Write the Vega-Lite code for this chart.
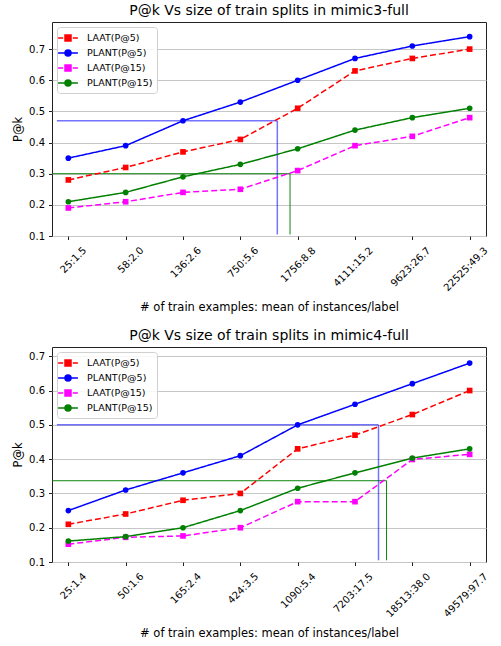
{
  "$schema": "https://vega.github.io/schema/vega-lite/v6.json",
  "padding": {"top": 3, "left": 12, "right": 5, "bottom": 3},
  "background": "white",
  "config": {
    "font": "DejaVu Sans",
    "view": {"stroke": "#222222", "strokeWidth": 1},
    "title": {"font": "DejaVu Sans", "fontSize": 14, "fontWeight": "normal", "color": "#000000", "offset": 4},
    "axis": {
      "domain": false,
      "tickColor": "#222222",
      "tickSize": 3.5,
      "gridColor": "#c6c6c6",
      "gridWidth": 1,
      "labelFont": "DejaVu Sans",
      "labelFontSize": 10,
      "labelColor": "#000000",
      "titleFont": "DejaVu Sans",
      "titleFontSize": 11.5,
      "titleFontWeight": "normal",
      "titleColor": "#000000"
    },
    "legend": {
      "orient": "top-left",
      "offset": 5,
      "padding": 4,
      "strokeColor": "#d0d0d0",
      "fillColor": "rgba(255,255,255,0.85)",
      "cornerRadius": 3,
      "labelFont": "DejaVu Sans",
      "labelFontSize": 9.5,
      "labelColor": "#000000",
      "labelOffset": 12,
      "symbolSize": 144,
      "symbolStrokeWidth": 1.5,
      "rowPadding": 2
    }
  },
  "datasets": {
    "m3": [
      {"split": "25:1.5", "series": "LAAT(P@5)", "pk": 0.28},
      {"split": "58:2.0", "series": "LAAT(P@5)", "pk": 0.32},
      {"split": "136:2.6", "series": "LAAT(P@5)", "pk": 0.37},
      {"split": "750:5.6", "series": "LAAT(P@5)", "pk": 0.41},
      {"split": "1756:8.8", "series": "LAAT(P@5)", "pk": 0.51},
      {"split": "4111:15.2", "series": "LAAT(P@5)", "pk": 0.63},
      {"split": "9623:26.7", "series": "LAAT(P@5)", "pk": 0.67},
      {"split": "22525:49.3", "series": "LAAT(P@5)", "pk": 0.70},
      {"split": "25:1.5", "series": "PLANT(P@5)", "pk": 0.35},
      {"split": "58:2.0", "series": "PLANT(P@5)", "pk": 0.39},
      {"split": "136:2.6", "series": "PLANT(P@5)", "pk": 0.47},
      {"split": "750:5.6", "series": "PLANT(P@5)", "pk": 0.53},
      {"split": "1756:8.8", "series": "PLANT(P@5)", "pk": 0.60},
      {"split": "4111:15.2", "series": "PLANT(P@5)", "pk": 0.67},
      {"split": "9623:26.7", "series": "PLANT(P@5)", "pk": 0.71},
      {"split": "22525:49.3", "series": "PLANT(P@5)", "pk": 0.74},
      {"split": "25:1.5", "series": "LAAT(P@15)", "pk": 0.19},
      {"split": "58:2.0", "series": "LAAT(P@15)", "pk": 0.21},
      {"split": "136:2.6", "series": "LAAT(P@15)", "pk": 0.24},
      {"split": "750:5.6", "series": "LAAT(P@15)", "pk": 0.25},
      {"split": "1756:8.8", "series": "LAAT(P@15)", "pk": 0.31},
      {"split": "4111:15.2", "series": "LAAT(P@15)", "pk": 0.39},
      {"split": "9623:26.7", "series": "LAAT(P@15)", "pk": 0.42},
      {"split": "22525:49.3", "series": "LAAT(P@15)", "pk": 0.48},
      {"split": "25:1.5", "series": "PLANT(P@15)", "pk": 0.21},
      {"split": "58:2.0", "series": "PLANT(P@15)", "pk": 0.24},
      {"split": "136:2.6", "series": "PLANT(P@15)", "pk": 0.29},
      {"split": "750:5.6", "series": "PLANT(P@15)", "pk": 0.33},
      {"split": "1756:8.8", "series": "PLANT(P@15)", "pk": 0.38},
      {"split": "4111:15.2", "series": "PLANT(P@15)", "pk": 0.44},
      {"split": "9623:26.7", "series": "PLANT(P@15)", "pk": 0.48},
      {"split": "22525:49.3", "series": "PLANT(P@15)", "pk": 0.51}
    ],
    "m4": [
      {"split": "25:1.4", "series": "LAAT(P@5)", "pk": 0.21},
      {"split": "50:1.6", "series": "LAAT(P@5)", "pk": 0.24},
      {"split": "165:2.4", "series": "LAAT(P@5)", "pk": 0.28},
      {"split": "424:3.5", "series": "LAAT(P@5)", "pk": 0.30},
      {"split": "1090:5.4", "series": "LAAT(P@5)", "pk": 0.43},
      {"split": "7203:17.5", "series": "LAAT(P@5)", "pk": 0.47},
      {"split": "18513:38.0", "series": "LAAT(P@5)", "pk": 0.53},
      {"split": "49579:97.7", "series": "LAAT(P@5)", "pk": 0.60},
      {"split": "25:1.4", "series": "PLANT(P@5)", "pk": 0.25},
      {"split": "50:1.6", "series": "PLANT(P@5)", "pk": 0.31},
      {"split": "165:2.4", "series": "PLANT(P@5)", "pk": 0.36},
      {"split": "424:3.5", "series": "PLANT(P@5)", "pk": 0.41},
      {"split": "1090:5.4", "series": "PLANT(P@5)", "pk": 0.50},
      {"split": "7203:17.5", "series": "PLANT(P@5)", "pk": 0.56},
      {"split": "18513:38.0", "series": "PLANT(P@5)", "pk": 0.62},
      {"split": "49579:97.7", "series": "PLANT(P@5)", "pk": 0.68},
      {"split": "25:1.4", "series": "LAAT(P@15)", "pk": 0.152},
      {"split": "50:1.6", "series": "LAAT(P@15)", "pk": 0.172},
      {"split": "165:2.4", "series": "LAAT(P@15)", "pk": 0.176},
      {"split": "424:3.5", "series": "LAAT(P@15)", "pk": 0.20},
      {"split": "1090:5.4", "series": "LAAT(P@15)", "pk": 0.276},
      {"split": "7203:17.5", "series": "LAAT(P@15)", "pk": 0.276},
      {"split": "18513:38.0", "series": "LAAT(P@15)", "pk": 0.399},
      {"split": "49579:97.7", "series": "LAAT(P@15)", "pk": 0.414},
      {"split": "25:1.4", "series": "PLANT(P@15)", "pk": 0.161},
      {"split": "50:1.6", "series": "PLANT(P@15)", "pk": 0.174},
      {"split": "165:2.4", "series": "PLANT(P@15)", "pk": 0.20},
      {"split": "424:3.5", "series": "PLANT(P@15)", "pk": 0.25},
      {"split": "1090:5.4", "series": "PLANT(P@15)", "pk": 0.315},
      {"split": "7203:17.5", "series": "PLANT(P@15)", "pk": 0.36},
      {"split": "18513:38.0", "series": "PLANT(P@15)", "pk": 0.403},
      {"split": "49579:97.7", "series": "PLANT(P@15)", "pk": 0.43}
    ],
    "ref3": [
      {"series": "PLANT(P@5)", "xs": -0.2, "xe": 3.645, "yv": 0.47, "yb": 0.105},
      {"series": "PLANT(P@15)", "xs": -0.285, "xe": 3.867, "yv": 0.30, "yb": 0.105}
    ],
    "ref4": [
      {"series": "PLANT(P@5)", "xs": -0.2, "xe": 5.41, "yv": 0.50, "yb": 0.105},
      {"series": "PLANT(P@15)", "xs": -0.285, "xe": 5.55, "yv": 0.337, "yb": 0.105}
    ]
  },
  "resolve": {"legend": {"color": "independent"}},
  "spacing": 14,
  "vconcat": [
    {
      "title": "P@k Vs size of train splits in  mimic3-full",
      "width": 434,
      "height": 214,
      "resolve": {"scale": {"x": "independent"}},
      "layer": [
        {
          "data": {"name": "ref3"},
          "mark": {"type": "rule"},
          "encoding": {
            "x": {"field": "xs", "type": "quantitative", "scale": {"domain": [-0.285, 7.285], "nice": false, "zero": false}, "axis": null},
            "x2": {"field": "xe"},
            "y": {"field": "yv", "type": "quantitative", "title": "P@k", "scale": {"domain": [0.1, 0.787], "nice": false, "zero": false}, "axis": {"values": [0.1, 0.2, 0.3, 0.4, 0.5, 0.6, 0.7], "format": ".1f", "labelPadding": 4, "titlePadding": 5}},
            "color": {"field": "series", "type": "nominal", "scale": {"domain": ["LAAT(P@5)", "PLANT(P@5)", "LAAT(P@15)", "PLANT(P@15)"], "range": ["#ff0000", "#0000ff", "#ff00ff", "#008000"]}, "legend": {"title": null, "encode": {"symbols": {"update": {"shape": {"signal": "indexof(datum.value, 'LAAT') === 0 ? 'M-1.65,0H-0.8M-0.5,-0.5H0.5V0.5H-0.5ZM0.8,0H1.65' : 'M-1.65,0H1.65M-0.5,0A0.5,0.5 0 1,0 0.5,0A0.5,0.5 0 1,0 -0.5,0Z'"}, "fill": {"scale": "color", "field": "value"}, "stroke": {"scale": "color", "field": "value"}, "strokeWidth": {"value": 1.5}, "strokeDash": {"value": []}, "opacity": {"value": 1}}}}}},
            "opacity": {"field": "series", "type": "nominal", "scale": {"domain": ["PLANT(P@5)", "PLANT(P@15)"], "range": [0.55, 0.95]}, "legend": null},
            "strokeWidth": {"field": "series", "type": "nominal", "scale": {"domain": ["PLANT(P@5)", "PLANT(P@15)"], "range": [1.5, 1]}, "legend": null}
          }
        },
        {
          "data": {"name": "ref3"},
          "mark": {"type": "rule"},
          "encoding": {
            "x": {"field": "xe", "type": "quantitative", "scale": {"domain": [-0.285, 7.285], "nice": false, "zero": false}, "axis": null},
            "y": {"field": "yb", "type": "quantitative", "title": "P@k", "scale": {"domain": [0.1, 0.787], "nice": false, "zero": false}, "axis": {"values": [0.1, 0.2, 0.3, 0.4, 0.5, 0.6, 0.7], "format": ".1f", "labelPadding": 4, "titlePadding": 5}},
            "y2": {"field": "yv"},
            "color": {"field": "series", "type": "nominal", "scale": {"domain": ["LAAT(P@5)", "PLANT(P@5)", "LAAT(P@15)", "PLANT(P@15)"], "range": ["#ff0000", "#0000ff", "#ff00ff", "#008000"]}, "legend": {"title": null, "encode": {"symbols": {"update": {"shape": {"signal": "indexof(datum.value, 'LAAT') === 0 ? 'M-1.65,0H-0.8M-0.5,-0.5H0.5V0.5H-0.5ZM0.8,0H1.65' : 'M-1.65,0H1.65M-0.5,0A0.5,0.5 0 1,0 0.5,0A0.5,0.5 0 1,0 -0.5,0Z'"}, "fill": {"scale": "color", "field": "value"}, "stroke": {"scale": "color", "field": "value"}, "strokeWidth": {"value": 1.5}, "strokeDash": {"value": []}, "opacity": {"value": 1}}}}}},
            "opacity": {"field": "series", "type": "nominal", "scale": {"domain": ["PLANT(P@5)", "PLANT(P@15)"], "range": [0.55, 0.95]}, "legend": null},
            "strokeWidth": {"field": "series", "type": "nominal", "scale": {"domain": ["PLANT(P@5)", "PLANT(P@15)"], "range": [1.5, 1]}, "legend": null}
          }
        },
        {
          "data": {"name": "m3"},
          "mark": {"type": "line", "strokeWidth": 1.5},
          "encoding": {
            "x": {"field": "split", "type": "ordinal", "sort": null, "title": "# of train examples: mean of instances/label", "scale": {"type": "point", "padding": 0.285}, "axis": {"labelAngle": -45, "labelAlign": "right", "labelBaseline": "middle", "labelOverlap": false, "labelPadding": 9, "labelOffset": 16, "titlePadding": 9}},
            "y": {"field": "pk", "type": "quantitative", "title": "P@k", "scale": {"domain": [0.1, 0.787], "nice": false, "zero": false}, "axis": {"values": [0.1, 0.2, 0.3, 0.4, 0.5, 0.6, 0.7], "format": ".1f", "labelPadding": 4, "titlePadding": 5}},
            "color": {"field": "series", "type": "nominal", "scale": {"domain": ["LAAT(P@5)", "PLANT(P@5)", "LAAT(P@15)", "PLANT(P@15)"], "range": ["#ff0000", "#0000ff", "#ff00ff", "#008000"]}, "legend": {"title": null, "encode": {"symbols": {"update": {"shape": {"signal": "indexof(datum.value, 'LAAT') === 0 ? 'M-1.65,0H-0.8M-0.5,-0.5H0.5V0.5H-0.5ZM0.8,0H1.65' : 'M-1.65,0H1.65M-0.5,0A0.5,0.5 0 1,0 0.5,0A0.5,0.5 0 1,0 -0.5,0Z'"}, "fill": {"scale": "color", "field": "value"}, "stroke": {"scale": "color", "field": "value"}, "strokeWidth": {"value": 1.5}, "strokeDash": {"value": []}, "opacity": {"value": 1}}}}}},
            "strokeDash": {"field": "series", "type": "nominal", "scale": {"domain": ["LAAT(P@5)", "PLANT(P@5)", "LAAT(P@15)", "PLANT(P@15)"], "range": [[6, 3], [1, 0], [6, 3], [1, 0]]}, "legend": null}
          }
        },
        {
          "data": {"name": "m3"},
          "mark": {"type": "point", "filled": true, "size": 32, "opacity": 1},
          "encoding": {
            "x": {"field": "split", "type": "ordinal", "sort": null, "scale": {"type": "point", "padding": 0.285}, "axis": null},
            "y": {"field": "pk", "type": "quantitative", "title": "P@k", "scale": {"domain": [0.1, 0.787], "nice": false, "zero": false}, "axis": {"values": [0.1, 0.2, 0.3, 0.4, 0.5, 0.6, 0.7], "format": ".1f", "labelPadding": 4, "titlePadding": 5}},
            "color": {"field": "series", "type": "nominal", "scale": {"domain": ["LAAT(P@5)", "PLANT(P@5)", "LAAT(P@15)", "PLANT(P@15)"], "range": ["#ff0000", "#0000ff", "#ff00ff", "#008000"]}, "legend": {"title": null, "encode": {"symbols": {"update": {"shape": {"signal": "indexof(datum.value, 'LAAT') === 0 ? 'M-1.65,0H-0.8M-0.5,-0.5H0.5V0.5H-0.5ZM0.8,0H1.65' : 'M-1.65,0H1.65M-0.5,0A0.5,0.5 0 1,0 0.5,0A0.5,0.5 0 1,0 -0.5,0Z'"}, "fill": {"scale": "color", "field": "value"}, "stroke": {"scale": "color", "field": "value"}, "strokeWidth": {"value": 1.5}, "strokeDash": {"value": []}, "opacity": {"value": 1}}}}}},
            "shape": {"field": "series", "type": "nominal", "scale": {"domain": ["LAAT(P@5)", "PLANT(P@5)", "LAAT(P@15)", "PLANT(P@15)"], "range": ["square", "circle", "square", "circle"]}, "legend": null}
          }
        }
      ]
    },
    {
      "title": "P@k Vs size of train splits in mimic4-full",
      "width": 434,
      "height": 215,
      "resolve": {"scale": {"x": "independent"}},
      "layer": [
        {
          "data": {"name": "ref4"},
          "mark": {"type": "rule"},
          "encoding": {
            "x": {"field": "xs", "type": "quantitative", "scale": {"domain": [-0.285, 7.285], "nice": false, "zero": false}, "axis": null},
            "x2": {"field": "xe"},
            "y": {"field": "yv", "type": "quantitative", "title": "P@k", "scale": {"domain": [0.1, 0.727], "nice": false, "zero": false}, "axis": {"values": [0.1, 0.2, 0.3, 0.4, 0.5, 0.6, 0.7], "format": ".1f", "labelPadding": 4, "titlePadding": 5}},
            "color": {"field": "series", "type": "nominal", "scale": {"domain": ["LAAT(P@5)", "PLANT(P@5)", "LAAT(P@15)", "PLANT(P@15)"], "range": ["#ff0000", "#0000ff", "#ff00ff", "#008000"]}, "legend": {"title": null, "encode": {"symbols": {"update": {"shape": {"signal": "indexof(datum.value, 'LAAT') === 0 ? 'M-1.65,0H-0.8M-0.5,-0.5H0.5V0.5H-0.5ZM0.8,0H1.65' : 'M-1.65,0H1.65M-0.5,0A0.5,0.5 0 1,0 0.5,0A0.5,0.5 0 1,0 -0.5,0Z'"}, "fill": {"scale": "color", "field": "value"}, "stroke": {"scale": "color", "field": "value"}, "strokeWidth": {"value": 1.5}, "strokeDash": {"value": []}, "opacity": {"value": 1}}}}}},
            "opacity": {"field": "series", "type": "nominal", "scale": {"domain": ["PLANT(P@5)", "PLANT(P@15)"], "range": [0.55, 0.95]}, "legend": null},
            "strokeWidth": {"field": "series", "type": "nominal", "scale": {"domain": ["PLANT(P@5)", "PLANT(P@15)"], "range": [1.5, 1]}, "legend": null}
          }
        },
        {
          "data": {"name": "ref4"},
          "mark": {"type": "rule"},
          "encoding": {
            "x": {"field": "xe", "type": "quantitative", "scale": {"domain": [-0.285, 7.285], "nice": false, "zero": false}, "axis": null},
            "y": {"field": "yb", "type": "quantitative", "title": "P@k", "scale": {"domain": [0.1, 0.727], "nice": false, "zero": false}, "axis": {"values": [0.1, 0.2, 0.3, 0.4, 0.5, 0.6, 0.7], "format": ".1f", "labelPadding": 4, "titlePadding": 5}},
            "y2": {"field": "yv"},
            "color": {"field": "series", "type": "nominal", "scale": {"domain": ["LAAT(P@5)", "PLANT(P@5)", "LAAT(P@15)", "PLANT(P@15)"], "range": ["#ff0000", "#0000ff", "#ff00ff", "#008000"]}, "legend": {"title": null, "encode": {"symbols": {"update": {"shape": {"signal": "indexof(datum.value, 'LAAT') === 0 ? 'M-1.65,0H-0.8M-0.5,-0.5H0.5V0.5H-0.5ZM0.8,0H1.65' : 'M-1.65,0H1.65M-0.5,0A0.5,0.5 0 1,0 0.5,0A0.5,0.5 0 1,0 -0.5,0Z'"}, "fill": {"scale": "color", "field": "value"}, "stroke": {"scale": "color", "field": "value"}, "strokeWidth": {"value": 1.5}, "strokeDash": {"value": []}, "opacity": {"value": 1}}}}}},
            "opacity": {"field": "series", "type": "nominal", "scale": {"domain": ["PLANT(P@5)", "PLANT(P@15)"], "range": [0.55, 0.95]}, "legend": null},
            "strokeWidth": {"field": "series", "type": "nominal", "scale": {"domain": ["PLANT(P@5)", "PLANT(P@15)"], "range": [1.5, 1]}, "legend": null}
          }
        },
        {
          "data": {"name": "m4"},
          "mark": {"type": "line", "strokeWidth": 1.5},
          "encoding": {
            "x": {"field": "split", "type": "ordinal", "sort": null, "title": "# of train examples: mean of instances/label", "scale": {"type": "point", "padding": 0.285}, "axis": {"labelAngle": -45, "labelAlign": "right", "labelBaseline": "middle", "labelOverlap": false, "labelPadding": 9, "labelOffset": 16, "titlePadding": 9}},
            "y": {"field": "pk", "type": "quantitative", "title": "P@k", "scale": {"domain": [0.1, 0.727], "nice": false, "zero": false}, "axis": {"values": [0.1, 0.2, 0.3, 0.4, 0.5, 0.6, 0.7], "format": ".1f", "labelPadding": 4, "titlePadding": 5}},
            "color": {"field": "series", "type": "nominal", "scale": {"domain": ["LAAT(P@5)", "PLANT(P@5)", "LAAT(P@15)", "PLANT(P@15)"], "range": ["#ff0000", "#0000ff", "#ff00ff", "#008000"]}, "legend": {"title": null, "encode": {"symbols": {"update": {"shape": {"signal": "indexof(datum.value, 'LAAT') === 0 ? 'M-1.65,0H-0.8M-0.5,-0.5H0.5V0.5H-0.5ZM0.8,0H1.65' : 'M-1.65,0H1.65M-0.5,0A0.5,0.5 0 1,0 0.5,0A0.5,0.5 0 1,0 -0.5,0Z'"}, "fill": {"scale": "color", "field": "value"}, "stroke": {"scale": "color", "field": "value"}, "strokeWidth": {"value": 1.5}, "strokeDash": {"value": []}, "opacity": {"value": 1}}}}}},
            "strokeDash": {"field": "series", "type": "nominal", "scale": {"domain": ["LAAT(P@5)", "PLANT(P@5)", "LAAT(P@15)", "PLANT(P@15)"], "range": [[6, 3], [1, 0], [6, 3], [1, 0]]}, "legend": null}
          }
        },
        {
          "data": {"name": "m4"},
          "mark": {"type": "point", "filled": true, "size": 32, "opacity": 1},
          "encoding": {
            "x": {"field": "split", "type": "ordinal", "sort": null, "scale": {"type": "point", "padding": 0.285}, "axis": null},
            "y": {"field": "pk", "type": "quantitative", "title": "P@k", "scale": {"domain": [0.1, 0.727], "nice": false, "zero": false}, "axis": {"values": [0.1, 0.2, 0.3, 0.4, 0.5, 0.6, 0.7], "format": ".1f", "labelPadding": 4, "titlePadding": 5}},
            "color": {"field": "series", "type": "nominal", "scale": {"domain": ["LAAT(P@5)", "PLANT(P@5)", "LAAT(P@15)", "PLANT(P@15)"], "range": ["#ff0000", "#0000ff", "#ff00ff", "#008000"]}, "legend": {"title": null, "encode": {"symbols": {"update": {"shape": {"signal": "indexof(datum.value, 'LAAT') === 0 ? 'M-1.65,0H-0.8M-0.5,-0.5H0.5V0.5H-0.5ZM0.8,0H1.65' : 'M-1.65,0H1.65M-0.5,0A0.5,0.5 0 1,0 0.5,0A0.5,0.5 0 1,0 -0.5,0Z'"}, "fill": {"scale": "color", "field": "value"}, "stroke": {"scale": "color", "field": "value"}, "strokeWidth": {"value": 1.5}, "strokeDash": {"value": []}, "opacity": {"value": 1}}}}}},
            "shape": {"field": "series", "type": "nominal", "scale": {"domain": ["LAAT(P@5)", "PLANT(P@5)", "LAAT(P@15)", "PLANT(P@15)"], "range": ["square", "circle", "square", "circle"]}, "legend": null}
          }
        }
      ]
    }
  ]
}
